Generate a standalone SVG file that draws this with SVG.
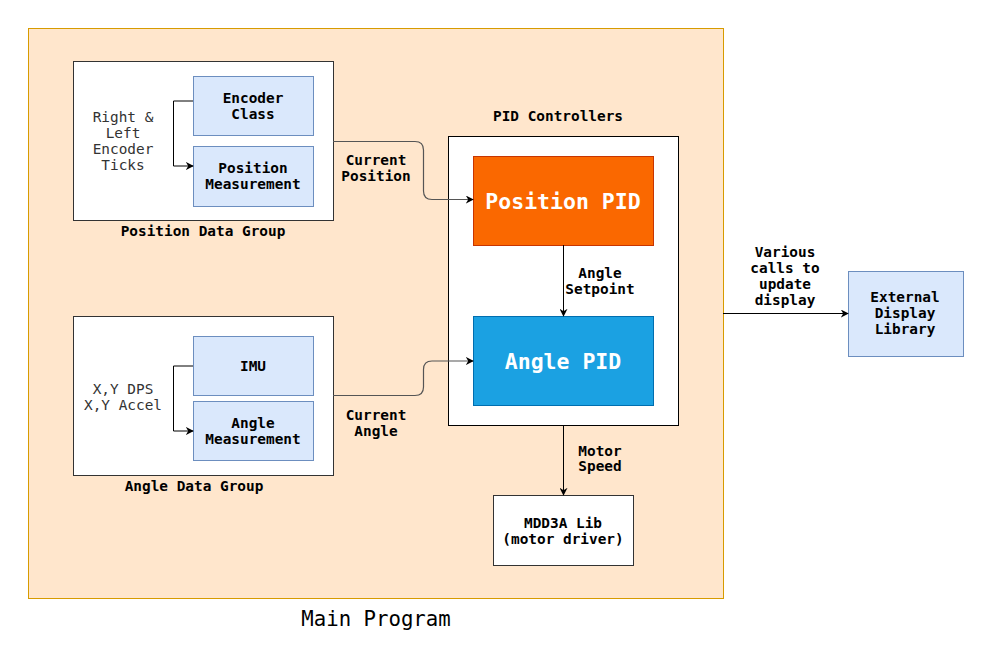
<svg xmlns="http://www.w3.org/2000/svg" width="984" height="654" viewBox="0 0 984 654">
<defs>
<style>
text{font-family:"DejaVu Sans Mono","Liberation Mono",monospace;font-size:14.4px;text-anchor:middle;fill:#000}
.b{font-weight:bold}
.n{fill:#333}
.big{font-size:21.5px;font-weight:bold;fill:#fff}
.blue{fill:#dae8fc;stroke:#6c8ebf;stroke-width:1}
.white{fill:#fff;stroke:#333;stroke-width:1}
.edge{fill:none;stroke:#555;stroke-width:1.2}
.edgek{fill:none;stroke:#000;stroke-width:1}
</style>
<marker id="ah" viewBox="0 0 10 10" refX="9" refY="5" markerWidth="8" markerHeight="8" markerUnits="userSpaceOnUse" orient="auto">
<path d="M0,0 L10,5 L0,10 L3,5 Z" fill="#000"/>
</marker>
</defs>
<rect width="984" height="654" fill="#fff"/>
<g id="main-program">
<rect x="28.5" y="28.5" width="695" height="570" fill="#ffe6cc" stroke="#d79b00"/>
<text x="376" y="625.5" style="font-size:20.7px">Main Program</text>
</g>
<g id="position-data-group">
<rect class="white" x="73.5" y="61.5" width="260" height="159"/>
<text class="n" x="123" y="122">Right &amp;</text>
<text class="n" x="123" y="138">Left</text>
<text class="n" x="123" y="154">Encoder</text>
<text class="n" x="123" y="170">Ticks</text>
<text class="b" x="203" y="236">Position Data Group</text>
</g>
<g id="encoder-class">
<rect class="blue" x="193.5" y="76.5" width="120" height="59"/>
<text class="b" x="253" y="103">Encoder</text>
<text class="b" x="253" y="119">Class</text>
</g>
<g id="position-measurement">
<rect class="blue" x="193.5" y="146.5" width="120" height="60"/>
<text class="b" x="253" y="173">Position</text>
<text class="b" x="253" y="189">Measurement</text>
</g>
<g id="angle-data-group">
<rect class="white" x="73.5" y="316.5" width="260" height="159"/>
<text class="n" x="123" y="394">X,Y DPS</text>
<text class="n" x="123" y="410">X,Y Accel</text>
<text class="b" x="194" y="491">Angle Data Group</text>
</g>
<g id="imu">
<rect class="blue" x="193.5" y="336.5" width="120" height="59"/>
<text class="b" x="253" y="371">IMU</text>
</g>
<g id="angle-measurement">
<rect class="blue" x="193.5" y="401.5" width="120" height="59"/>
<text class="b" x="253" y="428">Angle</text>
<text class="b" x="253" y="444">Measurement</text>
</g>
<g id="pid-controllers">
<rect x="448.5" y="136.5" width="230" height="289" fill="#fff" stroke="#000"/>
<text class="b" x="558" y="121">PID Controllers</text>
</g>
<g id="position-pid">
<rect x="473.5" y="156.5" width="180" height="89" fill="#fa6800" stroke="#c73500"/>
<text class="big" x="563" y="209">Position PID</text>
</g>
<g id="angle-pid">
<rect x="473.5" y="316.5" width="180" height="89" fill="#1ba1e2" stroke="#006eaf"/>
<text class="big" x="563" y="369">Angle PID</text>
</g>
<g id="mdd3a-lib">
<rect class="white" x="493.5" y="495.5" width="140" height="70"/>
<text class="b" x="563" y="528">MDD3A Lib</text>
<text class="b" x="563" y="544">(motor driver)</text>
</g>
<g id="external-display-library">
<rect class="blue" x="848.5" y="271.5" width="115" height="85"/>
<text class="b" x="905" y="302">External</text>
<text class="b" x="905" y="318">Display</text>
<text class="b" x="905" y="334">Library</text>
</g>
<g id="connectors">
<path class="edgek" d="M193,101 H173.5 V166 H193" marker-end="url(#ah)"/>
<path class="edgek" d="M193,366 H173.5 V431 H193" marker-end="url(#ah)"/>
<path class="edge" d="M333,141.5 H415 Q423.5,141.5 423.5,150 V191 Q423.5,199.5 432,199.5 H473" marker-end="url(#ah)"/>
<path class="edge" d="M333,395.5 H415 Q423.5,395.5 423.5,387 V369.5 Q423.5,361 432,361 H473" marker-end="url(#ah)"/>
<path class="edgek" d="M563.5,245 V316" marker-end="url(#ah)"/>
<path class="edgek" d="M563.5,425 V495" marker-end="url(#ah)"/>
<path class="edgek" d="M723,313.5 H848" marker-end="url(#ah)"/>
<text class="b" x="376" y="165">Current</text>
<text class="b" x="376" y="181">Position</text>
<text class="b" x="376" y="420">Current</text>
<text class="b" x="376" y="436">Angle</text>
<text class="b" x="600" y="278">Angle</text>
<text class="b" x="600" y="294">Setpoint</text>
<text class="b" x="600" y="456">Motor</text>
<text class="b" x="600" y="471">Speed</text>
<text class="b" x="785" y="257">Various</text>
<text class="b" x="785" y="273">calls to</text>
<text class="b" x="785" y="289">update</text>
<text class="b" x="785" y="305">display</text>
</g>
</svg>
